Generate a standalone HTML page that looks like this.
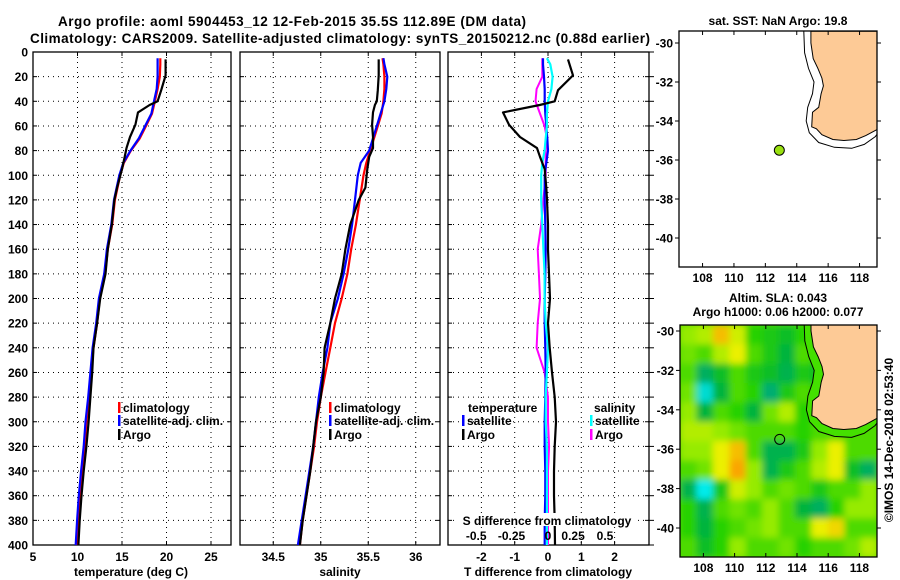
<!DOCTYPE html>
<html><head><meta charset="utf-8">
<style>
html,body{margin:0;padding:0;background:#fff;}
svg{display:block;font-family:"Liberation Sans",Arial,sans-serif;font-weight:bold;}
text{font-size:12px;fill:#000;}
</style></head>
<body>
<svg id="fig" width="900" height="580" viewBox="0 0 900 580" xmlns="http://www.w3.org/2000/svg">
<defs>
<clipPath id="clipTop"><rect x="679" y="31" width="198" height="236"/></clipPath>
<clipPath id="clipBot"><rect x="680" y="325" width="197" height="232"/></clipPath>
<filter id="blur" x="0" y="0" width="100%" height="100%"><feGaussianBlur stdDeviation="3.5"/></filter>
</defs>
<g id="root"></g>
</svg>
<script>
// ---------- data ----------
var depths = [5,10,20,30,40,50,60,70,80,90,100,120,140,160,180,200,220,240,260,280,300,320,340,360,380,400];
var tempClim = [19.3,19.3,19.25,19.0,18.7,18.37,17.7,17.0,16.0,15.2,14.8,14.2,13.9,13.4,13.1,12.5,12.2,11.8,11.55,11.3,11.0,10.8,10.5,10.25,10.05,9.9];
var tempSat  = [19.0,19.0,19.0,18.9,18.6,18.3,17.6,16.9,15.95,15.15,14.7,14.1,13.8,13.3,13.0,12.4,12.1,11.7,11.45,11.2,10.9,10.7,10.4,10.15,9.95,9.8];
var argoDepths = [6,19,31,40,43,49,59,69,78,85,95,110,120,140,160,180,200,220,240,260,280,300,320,340,360,380,400];
var tempArgo = [19.9,19.9,19.4,19.0,18.1,16.8,16.5,15.9,15.5,15.3,15.0,14.45,14.15,13.85,13.4,13.15,12.55,12.2,11.8,11.65,11.45,11.25,11.0,10.7,10.45,10.25,10.1];
var salClim = [35.65,35.66,35.67,35.67,35.66,35.64,35.6,35.56,35.52,35.48,35.45,35.41,35.37,35.32,35.28,35.22,35.15,35.1,35.05,35.0,34.96,34.93,34.89,34.85,34.81,34.78];
var salSat  = [35.66,35.67,35.7,35.69,35.67,35.63,35.59,35.55,35.51,35.42,35.39,35.36,35.33,35.29,35.24,35.18,35.1,35.07,35.02,34.98,34.95,34.92,34.88,34.84,34.8,34.76];
var salArgo = [35.61,35.61,35.6,35.59,35.57,35.55,35.54,35.55,35.55,35.51,35.49,35.47,35.4,35.31,35.26,35.22,35.15,35.1,35.04,35.03,35.0,34.95,34.92,34.89,34.85,34.81,34.78];
var tDiffSat = [-0.15,-0.15,-0.12,-0.1,-0.1,-0.08,-0.05,-0.02,0.0,-0.05,-0.1,-0.1,-0.08,-0.07,-0.08,-0.1,-0.1,-0.08,-0.07,-0.08,-0.1,-0.1,-0.08,-0.08,-0.1,-0.1];
var tDiffArgo = [0.6,0.75,0.3,0.2,-0.25,-1.35,-1.17,-0.84,-0.33,-0.24,-0.1,-0.05,-0.03,0.0,0.0,0.03,0.06,0.0,0.05,0.12,0.2,0.24,0.2,0.18,0.18,0.2,0.21];
var sDiffSat = [-0.01,0.02,0.04,0.03,0.0,-0.01,-0.01,-0.02,-0.03,-0.05,-0.06,-0.06,-0.05,-0.04,-0.03,-0.03,-0.02,0.0,-0.01,-0.02,-0.02,-0.01,-0.01,-0.01,-0.01,-0.01];
var sDiffArgo = [-0.05,-0.05,-0.05,-0.1,-0.11,-0.07,-0.03,-0.01,-0.02,-0.02,-0.02,-0.04,-0.06,-0.09,-0.08,-0.07,-0.09,-0.1,-0.03,0.0,0.0,0.01,0.0,0.0,0.0,0.0];
var depthTicks = [0,20,40,60,80,100,120,140,160,180,200,220,240,260,280,300,320,340,360,380,400];
var tempTicks = [5,10,15,20,25];
var salTicks = [34.5,35,35.5,36];
var tdTicks = [-2,-1,0,1,2];
var tdTickLabels = ["-2","-1","0","1","2"];
var sdTickLabels = ["-0.5","-0.25","0","0.25","0.5"];
var sdTickVals = [-0.63,-0.32,0,0.22,0.5];
var latTicks = [-30,-32,-34,-36,-38,-40];
var lonTicks = [108,110,112,114,116,118];
var argoLon = 112.89, argoLat = -35.5;
var coastLon = [114.9,114.9,115.05,115.35,115.6,115.7,115.55,115.4,115.0,114.95,115.25,115.6,116.3,117.0,117.8,118.4,119.2,119.2];
var coastLat = [-29.4,-30.0,-30.8,-31.3,-31.8,-32.2,-32.6,-33.3,-33.55,-34.3,-34.4,-34.7,-34.95,-35.0,-34.95,-34.75,-34.4,-29.4];
var shelfLon = [114.45,114.5,114.75,115.1,115.0,114.7,114.6,114.8,115.4,116.4,117.5,118.3,119.0,119.2];
var shelfLat = [-29.4,-30.5,-31.3,-32.0,-32.6,-33.3,-34.0,-34.6,-35.1,-35.35,-35.4,-35.2,-34.8,-34.6];
var slaGrid = [
 [0.7,0.75,0.95,0.8,0.55,0.5,0.45,0.55,0.6,0.6,0.6,0.6],
 [0.65,0.6,0.75,0.85,0.6,0.5,0.4,0.6,0.55,0.6,0.6,0.6],
 [0.6,0.3,0.45,0.6,0.5,0.45,0.35,0.5,0.45,0.6,0.6,0.6],
 [0.65,0.05,0.4,0.6,0.55,0.25,0.5,0.6,0.55,0.6,0.6,0.6],
 [0.7,0.4,0.6,0.55,0.4,0.65,0.75,0.55,0.55,0.6,0.6,0.6],
 [0.75,0.75,0.7,0.65,0.6,0.6,0.6,0.55,0.6,0.6,0.6,0.6],
 [0.7,0.7,0.85,0.95,0.6,0.35,0.35,0.5,0.7,0.85,0.6,0.6],
 [0.6,0.65,0.85,1.0,0.7,0.35,0.5,0.6,0.75,0.85,0.45,0.3],
 [0.35,0.0,0.5,0.8,0.7,0.6,0.65,0.6,0.5,0.6,0.6,0.7],
 [0.55,0.35,0.6,0.65,0.6,0.7,0.6,0.4,0.3,0.55,0.7,0.7],
 [0.55,0.4,0.55,0.6,0.65,0.7,0.6,0.6,0.85,0.9,0.6,0.6],
 [0.6,0.45,0.55,0.7,0.6,0.6,0.65,0.55,0.6,0.6,0.65,0.75]];

// ---------- helpers ----------
var NS="http://www.w3.org/2000/svg";
var root=document.getElementById('root');
function mk(tag,attrs,parent){var e=document.createElementNS(NS,tag);for(var k in attrs)e.setAttribute(k,attrs[k]);(parent||root).appendChild(e);return e;}
function txt(x,y,s,anchor,parent,size){var t=mk('text',{x:x,y:y,'text-anchor':anchor||'start'},parent);if(size)t.style.fontSize=size+'px';t.textContent=s;return t;}

var PT=52, PB=545;
function yD(d){return PT+(d-0)*(PB-PT)/400;}
function xT(v){return 33+(v-5)*8.9;}
function xS(v){return 240+(v-34.15)*95;}
function xTD(v){return 548+v*33.3;}
function xSD(v){return 548+v*114;}

function panel(name,x0,x1,vticks,xf){
  var g=mk('g',{});
  
  
  depthTicks.forEach(function(d){ if(d>0&&d<400){var l=mk('line',{x1:x0,x2:x1,y1:yD(d),y2:yD(d),stroke:'#000','stroke-width':1,'stroke-dasharray':'1,4'},g);
    }
    mk('line',{x1:x1,x2:x1-4,y1:yD(d),y2:yD(d),stroke:'#000'},g);
    mk('line',{x1:x0,x2:x0+4,y1:yD(d),y2:yD(d),stroke:'#000'},g);});
  vticks.forEach(function(v){var x=xf(v);var l=mk('line',{x1:x,x2:x,y1:PT,y2:PB,stroke:'#000','stroke-width':1,'stroke-dasharray':'1,4'},g);
    
    mk('line',{x1:x,x2:x,y1:PB,y2:PB-4,stroke:'#000'},g);mk('line',{x1:x,x2:x,y1:PT,y2:PT+4,stroke:'#000'},g);});
  var r=mk('rect',{x:x0,y:PT,width:x1-x0,height:PB-PT,fill:'none',stroke:'#000','stroke-width':1.3},g);
  
  return g;
}
function line(g,name,xs,ds,xf,color,w){
  var pts=xs.map(function(v,i){return xf(v).toFixed(1)+','+yD(ds[i]).toFixed(1);}).join(' ');
  var p=mk('polyline',{points:pts,fill:'none',stroke:color,'stroke-width':w||2.2,'stroke-linejoin':'round'},g);
  
  
}
function legendItem(g,x,y,color,label){
  mk('rect',{x:x,y:y-10,width:2.5,height:11,fill:color},g);
  var t=txt(x+5,y,label,'start',g);
  
  
}

// titles
var t1=txt(292,26,'Argo profile: aoml 5904453_12 12-Feb-2015 35.5S 112.89E (DM data)','middle',null,13.5);

t1.setAttribute('textLength','468');
var t2=txt(340,43,'Climatology: CARS2009. Satellite-adjusted climatology: synTS_20150212.nc (0.88d earlier)','middle',null,13.5);

t2.setAttribute('textLength','620');

// panel 1 temperature
var g1=panel('temperature-panel',33,231,[10,15,20,25],xT);
depthTicks.forEach(function(d){var t=txt(28,yD(d)+4.5,String(d),'end',g1);});
tempTicks.forEach(function(v){var t=txt(xT(v),561,String(v),'middle',g1);});
var a1=txt(131,576,'temperature (deg C)','middle',g1);
line(g1,'temperature-climatology-line',tempClim,depths,xT,'#f00');
line(g1,'temperature-satellite-line',tempSat,depths,xT,'#00f');
line(g1,'temperature-argo-line',tempArgo,argoDepths,xT,'#000');
legendItem(g1,118,412,'#f00','climatology');
legendItem(g1,118,425,'#00f','satellite-adj. clim.');
legendItem(g1,118,439,'#000','Argo');

// panel 2 salinity
var g2=panel('salinity-panel',240,440,salTicks,xS);
salTicks.forEach(function(v){var t=txt(xS(v),561,String(v),'middle',g2);});
var a2=txt(340,576,'salinity','middle',g2);
line(g2,'salinity-climatology-line',salClim,depths,xS,'#f00');
line(g2,'salinity-satellite-line',salSat,depths,xS,'#00f');
line(g2,'salinity-argo-line',salArgo,argoDepths,xS,'#000');
legendItem(g2,329,412,'#f00','climatology');
legendItem(g2,329,425,'#00f','satellite-adj. clim.');
legendItem(g2,329,439,'#000','Argo');

// panel 3 differences
var g3=panel('difference-panel',448,649,tdTicks,xTD);
depthTicks.forEach(function(d){mk('line',{x1:649,x2:654,y1:yD(d),y2:yD(d),stroke:'#000'},g3);});
tdTicks.forEach(function(v,i){var t=txt(xTD(v),561,tdTickLabels[i],'middle',g3);});
var a3=txt(548,576,'T difference from climatology','middle',g3);
line(g3,'s-diff-argo-line',sDiffArgo,depths,xSD,'#f0f',2);
line(g3,'t-diff-satellite-line',tDiffSat,depths,xTD,'#00f',2.2);
line(g3,'s-diff-satellite-line',sDiffSat,depths,xSD,'#0ff',2.2);
line(g3,'t-diff-argo-line',tDiffArgo,argoDepths,xTD,'#000',2.2);
var lt=txt(468,412,'temperature','start',g3);
legendItem(g3,462,425,'#00f','satellite');
legendItem(g3,462,439,'#000','Argo');
var ls=txt(594,412,'salinity','start',g3);
legendItem(g3,590,425,'#0ff','satellite');
legendItem(g3,590,439,'#f0f','Argo');
mk('rect',{x:457,y:513,width:180,height:13,fill:'#fff'},g3);
var st=txt(547,525,'S difference from climatology','middle',g3);
sdTickVals.forEach(function(v,i){var t=txt(xSD(v),540,sdTickLabels[i],'middle',g3);});

// ---------- maps ----------
function mapAxes(g,x0,y0,x1,y1,lonf,latf,withX){
  latTicks.forEach(function(v){var y=latf(v);mk('line',{x1:x1,x2:x1+4,y1:y,y2:y,stroke:'#000'},g);mk('line',{x1:x0,x2:x0-4,y1:y,y2:y,stroke:'#000'},g);
    var t=txt(x0-6,y+4.5,String(v),'end',g);});
  lonTicks.forEach(function(v){var x=lonf(v);mk('line',{x1:x,x2:x,y1:y1,y2:y1-4,stroke:'#000'},g);mk('line',{x1:x,x2:x,y1:y0,y2:y0+4,stroke:'#000'},g);
    if(withX){var t=txt(x,y1+15,String(v),'middle',g);}});
  var r=mk('rect',{x:x0,y:y0,width:x1-x0,height:y1-y0,fill:'none',stroke:'#000','stroke-width':1.3},g);
  
}
function poly(g,lons,lats,lonf,latf,attrs,tag){
  var pts=lons.map(function(v,i){return lonf(v).toFixed(1)+','+latf(lats[i]).toFixed(1);}).join(' ');
  attrs.points=pts;return mk(tag||'polygon',attrs,g);
}

// top map
function lonA(v){return 679+(v-106.5)*15.7;}
function latA(v){return 43+(-30-v)*19.5;}
var gm=mk('g',{});


var st1=txt(778,25,'sat. SST: NaN Argo: 19.8','middle',gm);
var gmc=mk('g',{'clip-path':'url(#clipTop)'},gm);
var sh=poly(gmc,shelfLon,shelfLat,lonA,latA,{fill:'none',stroke:'#000','stroke-width':1},'polyline');

var land=poly(gmc,coastLon,coastLat,lonA,latA,{fill:'#fdca96',stroke:'#000','stroke-width':1});

var dot=mk('circle',{cx:lonA(argoLon),cy:latA(argoLat),r:5,fill:'#99e010',stroke:'#000','stroke-width':1},gmc);

mapAxes(gm,679,31,877,267,lonA,latA,true);

// bottom map
function lonB(v){return 680+(v-106.5)*15.6;}
function latB(v){return 331+(-30-v)*19.7;}
var gb=mk('g',{});


var s2=txt(778,302,'Altim. SLA: 0.043','middle',gb);
var s3=txt(778,316,'Argo h1000: 0.06 h2000: 0.077','middle',gb);
function cmap(v){
  var stops=[[0,[0,235,235]],[0.2,[0,170,130]],[0.4,[0,180,60]],[0.55,[40,210,0]],[0.7,[150,235,0]],[0.85,[235,240,0]],[1,[250,165,0]]];
  for(var i=1;i<stops.length;i++){if(v<=stops[i][0]){var a=stops[i-1],b=stops[i],f=(v-a[0])/(b[0]-a[0]);
    return 'rgb('+[0,1,2].map(function(k){return Math.round(a[1][k]+f*(b[1][k]-a[1][k]));}).join(',')+')';}}
  return 'rgb(250,165,0)';
}
var gbc=mk('g',{'clip-path':'url(#clipBot)'},gb);
mk('rect',{x:680,y:325,width:197,height:232,fill:cmap(0.6)},gbc);
var gh=mk('g',{filter:'url(#blur)'},gbc);


var nR=slaGrid.length,nC=slaGrid[0].length;
var cw=(877-680)/nC, chh=(557-325)/nR;
mk('rect',{x:660,y:305,width:240,height:272,fill:cmap(0.6)},gh);
slaGrid.forEach(function(row,r){row.forEach(function(v,c){
  var cell=mk('rect',{x:680+c*cw,y:325+r*chh,width:cw+0.5,height:chh+0.5,fill:cmap(v)},gh);
  
  
});});
var shelfFill=poly(gbc,shelfLon.concat([119.5,119.5]),shelfLat.concat([-34.6,-29.0]),lonB,latB,{fill:'#44e000',stroke:'none'});

var sh2=poly(gbc,shelfLon,shelfLat,lonB,latB,{fill:'none',stroke:'#000','stroke-width':1},'polyline');

var land2=poly(gbc,coastLon,coastLat,lonB,latB,{fill:'#fdca96',stroke:'#000','stroke-width':1});

var c2=mk('circle',{cx:lonB(argoLon),cy:latB(argoLat),r:5,fill:'none',stroke:'#000','stroke-width':1},gbc);

mapAxes(gb,680,325,877,557,lonB,latB,true);

var cr=txt(0,0,'\u00a9IMOS 14-Dec-2018 02:53:40','middle');
cr.setAttribute('transform','translate(893,440) rotate(-90)');


</script>
</body></html>
